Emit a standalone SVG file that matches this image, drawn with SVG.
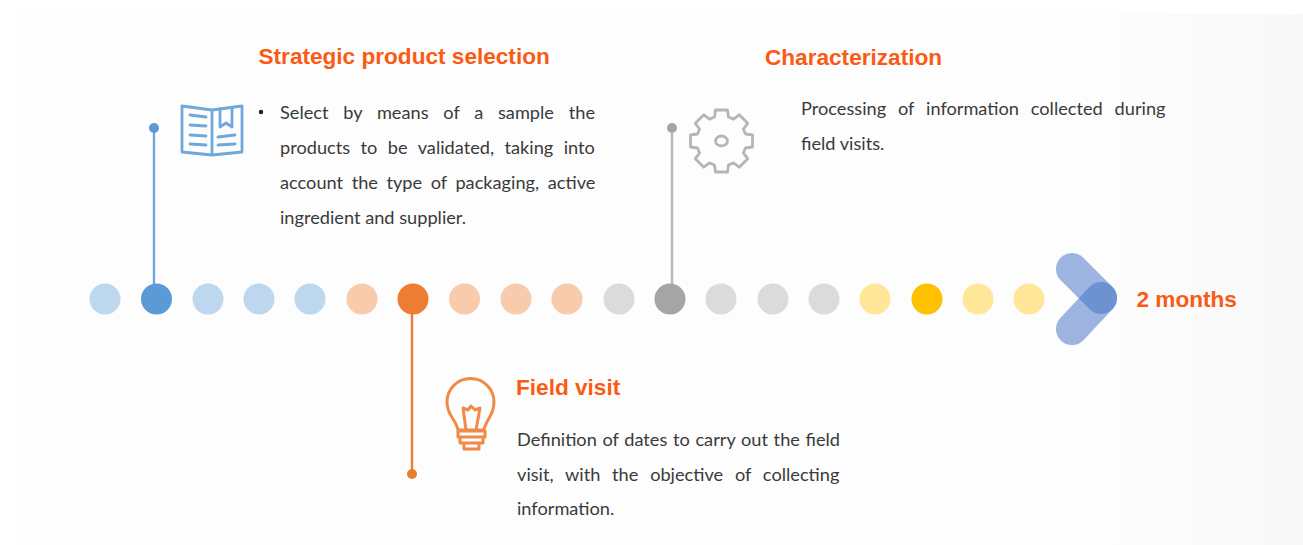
<svg xmlns="http://www.w3.org/2000/svg" width="1303" height="545" viewBox="0 0 1303 545">
<defs>
<linearGradient id="bg" x1="0" y1="0" x2="1" y2="0"><stop offset="0" stop-color="#fdfdfd"/><stop offset="0.85" stop-color="#fdfdfd"/><stop offset="1" stop-color="#f8f8f8"/></linearGradient>
</defs>
<style>
.h{font-family:"Liberation Sans",Arial,sans-serif;font-weight:700;font-size:22.6px;fill:#fb5a14}
.t{font-family:Lato,"Open Sans",sans-serif;font-size:18.2px;fill:#3a3a3a}
.blue{fill:#bdd7ee}.orange{fill:#f8cbad}.gray{fill:#dbdbdb}.yellow{fill:#ffe699}
.ic{fill:none;stroke-linejoin:round;stroke-linecap:round}
</style>
<rect width="1303" height="545" fill="#fff"/>
<rect x="17" y="14" width="1286" height="531" fill="url(#bg)"/>
<g id="connectors" fill="none" stroke-width="2.4">
<path d="M154 128V299" stroke="#6fa8dc"/>
<path d="M672 128V299" stroke="#b8b8b8"/>
<path d="M412 299V474" stroke="#ed7d31"/>
</g>
<g id="dots">
<circle class="blue" cx="105" cy="299" r="15.5"/><circle cx="156.500" cy="299" r="15.500" fill="#5b9bd5"/><circle class="blue" cx="208" cy="299" r="15.500"/><circle class="blue" cx="259" cy="299" r="15.500"/><circle class="blue" cx="310" cy="299" r="15.500"/>
<circle class="orange" cx="362" cy="299" r="15.500"/><circle cx="413" cy="299" r="15.500" fill="#ed7d31"/><circle class="orange" cx="464.500" cy="299" r="15.500"/><circle class="orange" cx="516" cy="299" r="15.500"/><circle class="orange" cx="567" cy="299" r="15.500"/>
<circle class="gray" cx="619" cy="299" r="15.500"/><circle cx="670" cy="299" r="15.500" fill="#a5a5a5"/><circle class="gray" cx="721" cy="299" r="15.500"/><circle class="gray" cx="773" cy="299" r="15.500"/><circle class="gray" cx="824" cy="299" r="15.500"/>
<circle class="yellow" cx="875" cy="299" r="15.500"/><circle cx="927" cy="299" r="15.500" fill="#ffc000"/><circle class="yellow" cx="978" cy="299" r="15.500"/><circle class="yellow" cx="1029" cy="299" r="15.500"/>
</g>
<g id="end-arrow" fill="none" stroke="#4472c4" stroke-opacity="0.52" stroke-width="32" stroke-linecap="round">
<path d="M1072 269L1101 298"/><path d="M1072 329L1101 298"/>
</g>
<g id="node-selection">
<circle cx="154" cy="128" r="5" fill="#5b9bd5"/>
<g class="ic" stroke="#6fa8dc" stroke-width="2.800">
<path d="M182 106L212 110L242 106V152L212 155L182 152ZM212 110V155"/>
<path d="M190 115L206 117M190 125L206 126M190 135L206 136M190 144L206 145M218 137L235 135M218 145L235 144M220 109V127L226 123L232 127V108"/>
</g>
<text class="h" x="258.500" y="64">Strategic product selection</text>
<circle cx="261" cy="112" r="2.200" fill="#222"/>
<text class="t" x="280" y="119" style="word-spacing:10.1px">Select by means of a sample the</text>
<text class="t" x="280" y="154" style="word-spacing:5.800px">products to be validated, taking into</text>
<text class="t" x="280" y="189" style="word-spacing:3.900px">account the type of packaging, active</text>
<text class="t" x="280" y="224">ingredient and supplier.</text>
</g>
<g id="node-characterization">
<circle cx="672" cy="128" r="5" fill="#a5a5a5"/>
<g class="ic" stroke="#b5b5b5" stroke-width="2.800" transform="translate(721.5 141)">
<path d="M-6 -31H6L7 -24L12 -21.900L17.700 -26.200L26.200 -17.700L21.900 -12L24 -7L31 -6V6L24 7L21.900 12L26.200 17.700L17.700 26.200L12 21.900L7 24L6 31H-6L-7 24L-12 21.900L-17.700 26.200L-26.200 17.700L-21.900 12L-24 7L-31 6V-6L-24 -7L-21.900 -12L-26.200 -17.700L-17.700 -26.200L-12 -21.900L-7 -24Z"/>
<ellipse cx="0" cy="0" rx="6" ry="5"/>
</g>
<text class="h" x="765" y="65">Characterization</text>
<text class="t" x="801" y="115" style="word-spacing:7.200px">Processing of information collected during</text>
<text class="t" x="801" y="150">field visits.</text>
</g>
<g id="node-field-visit">
<circle cx="412" cy="474" r="5" fill="#ed7d31"/>
<g class="ic" stroke="#f08a46" stroke-width="3">
<path d="M458 430C456 419 447 416 447 402A23.500 23.500 0 0 1 494 402C494 416 486 419 484 430Z"/>
<path d="M466 430L463 408L468 410L471 406L475 410L480 408L476 430"/>
<path d="M458 431H485V437H458ZM460 437H483V443H460ZM464 443H479V449H464Z"/>
</g>
<text class="h" x="516" y="395">Field visit</text>
<text class="t" x="517" y="446" style="word-spacing:1px">Definition of dates to carry out the field</text>
<text class="t" x="517" y="481" style="word-spacing:7.100px">visit, with the objective of collecting</text>
<text class="t" x="517" y="515">information.</text>
</g>
<g id="node-duration">
<text class="h" x="1136.500" y="307">2 months</text>
</g>
</svg>
